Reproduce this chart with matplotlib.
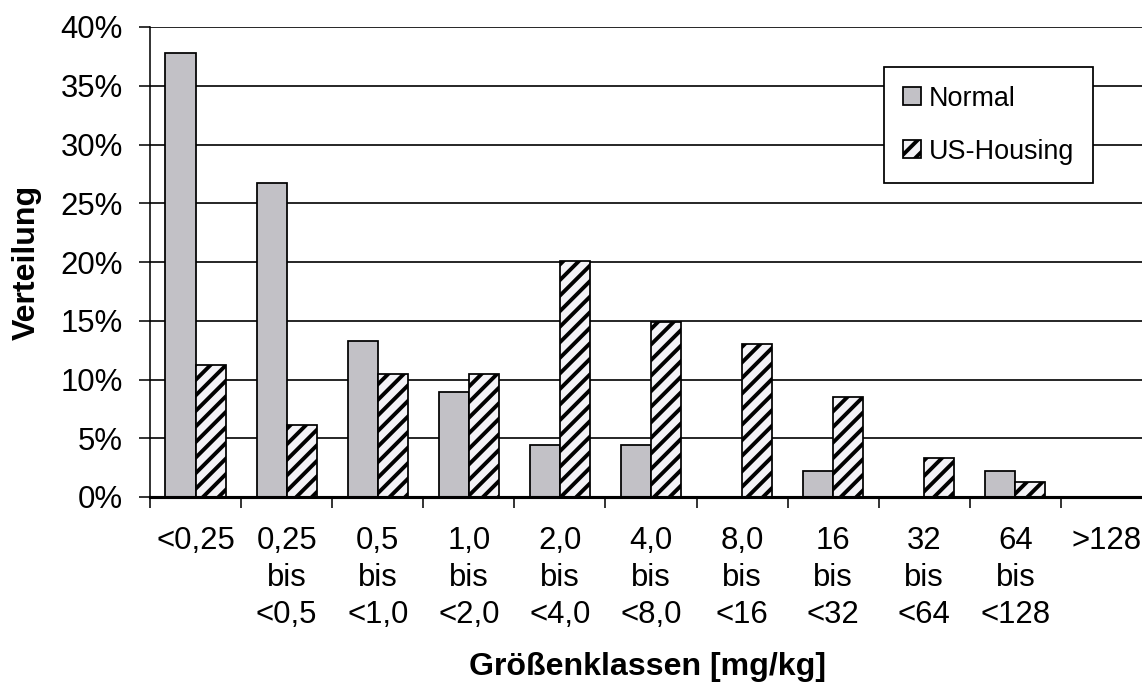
import matplotlib
matplotlib.use("Agg")
import matplotlib.pyplot as plt
import numpy as np
from matplotlib.patches import Patch

plt.rcParams['font.family'] = ['Liberation Sans', 'DejaVu Sans']
plt.rcParams['hatch.linewidth'] = 2.0
plt.rcParams['hatch.color'] = 'black'

# Groessenklassen und Verteilung (in %)
klassen = ['<0,25', '0,25\nbis\n<0,5', '0,5\nbis\n<1,0', '1,0\nbis\n<2,0',
           '2,0\nbis\n<4,0', '4,0\nbis\n<8,0', '8,0\nbis\n<16', '16\nbis\n<32',
           '32\nbis\n<64', '64\nbis\n<128', '>128']
normal = [37.8, 26.7, 13.3, 8.9, 4.4, 4.4, 0.0, 2.2, 0.0, 2.2, 0.0]
us_housing = [11.2, 6.1, 10.5, 10.5, 20.1, 14.9, 13.0, 8.5, 3.3, 1.3, 0.0]
y_ticks = [0, 5, 10, 15, 20, 25, 30, 35, 40]

dpi = 140
fig = plt.figure(figsize=(1142 / dpi, 687 / dpi), dpi=dpi)
ax = fig.add_axes([150 / 1142, 1 - 497 / 687, 1002 / 1142, 470 / 687])

x = np.arange(len(klassen))
w = 0.33
ax.bar(x - w / 2, normal, w, color='#c2c1c6', edgecolor='black', linewidth=0.9,
       zorder=3, label='Normal')
ax.bar(x + w / 2, us_housing, w, color='#f3f2f6', edgecolor='black', linewidth=0.9,
       hatch='///', zorder=3, label='US-Housing')

ax.set_xlim(-0.5, len(klassen) - 0.5)
ax.set_ylim(0, 40)
ax.set_axisbelow(True)
ax.yaxis.grid(True, color='black', linewidth=0.85)

ax.set_yticks(y_ticks)
ax.set_yticklabels([f'{t}%' for t in y_ticks])
ax.tick_params(axis='y', length=5.5, width=0.8, pad=8.5, labelsize=16)

# labels in der Mitte, Striche an den Klassengrenzen
ax.set_xticks(x)
ax.set_xticklabels(klassen, linespacing=1.3)
ax.set_xticks(np.arange(len(klassen) + 1) - 0.5, minor=True)
ax.tick_params(axis='x', which='major', length=0, pad=15, labelsize=16)
ax.tick_params(axis='x', which='minor', length=5.5, width=0.8)

for s in ['top', 'right']:
    ax.spines[s].set_visible(False)
ax.spines['left'].set_linewidth(0.8)
ax.spines['bottom'].set_linewidth(1.6)
ax.spines['bottom'].set_zorder(4)

ax.set_xlabel('Größenklassen [mg/kg]', fontsize=16.5, fontweight='bold')
ax.xaxis.set_label_coords(0.4965, -0.33)
ax.set_ylabel('Verteilung', fontsize=16.5, fontweight='bold')
ax.yaxis.set_label_coords(-0.108, 0.5)

handles = [Patch(facecolor='#c2c1c6', edgecolor='black', linewidth=0.9),
           Patch(facecolor='#f3f2f6', edgecolor='black', linewidth=0.9, hatch='///')]
leg = ax.legend(handles, ['Normal', 'US-Housing'], loc='upper right',
                bbox_to_anchor=(0.941, 0.915), borderaxespad=0, fontsize=13.8,
                handlelength=0.65, handleheight=0.65, handletextpad=0.3,
                borderpad=0.7, labelspacing=1.0, fancybox=False, framealpha=1)
leg.get_frame().set_edgecolor('black')
leg.get_frame().set_linewidth(0.9)

fig.savefig('out.png', dpi=dpi)
